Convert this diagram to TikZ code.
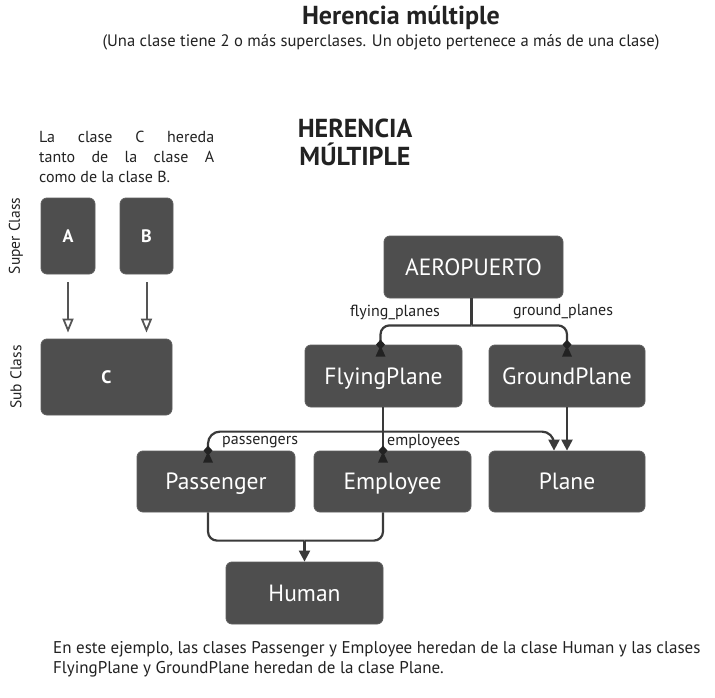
\documentclass[tikz,border=0pt]{standalone}
\usepackage{fontspec}
\setmainfont{PT Sans}
\usetikzlibrary{arrows.meta,calc}
\definecolor{boxfill}{HTML}{4E4E4E}
\definecolor{boxline}{HTML}{5E5E5E}
\definecolor{ink}{HTML}{222222}
\definecolor{wire}{HTML}{3A3A3A}
\definecolor{graywire}{HTML}{555555}
\tikzset{
  x=1pt,y=-1pt,
  cls/.style={rectangle,rounded corners=6pt,fill=boxfill,draw=boxline,line width=0.8pt,text=white,
    inner sep=0pt,text height=16.5pt,text depth=0pt,font=\fontsize{23.5}{26}\selectfont},
  abox/.style={cls,text height=12.5pt,text depth=0pt,font=\bfseries\fontsize{18}{20}\selectfont},
  conn/.style={draw=wire,line width=2.2pt},
  inh/.style={conn,-{Triangle[length=11pt,width=11pt]}},
  openinh/.style={draw=graywire,line width=2pt,-{Triangle[open,length=14pt,width=11pt,line width=1.8pt]}},
  lbl/.style={text=ink,inner sep=0pt,font=\fontsize{16}{18}\selectfont},
  compo/.pic={
    \fill[ink] (-5,12) -- (5,12) -- (0,1) -- cycle;
    \fill[ink] (0,-5) -- (4.5,0) -- (0,5) -- (-4.5,0) -- cycle;
  }
}
\begin{document}
\begin{tikzpicture}
\useasboundingbox[fill=white] (0,0) rectangle (715,698);

% titles
\node[text=ink,font=\bfseries\fontsize{26}{28}\selectfont] (title) at (401,18) {Herencia múltiple};
\node[text=ink,font=\fontsize{16.6}{19}\selectfont] (subtitle) at (381,42) {(Una clase tiene 2 o más superclases. Un objeto pertenece a más de una clase)};
\node[text=ink,align=center,font=\bfseries\fontsize{26}{28}\selectfont] (bigtitle) at (355,142) {HERENCIA\\MÚLTIPLE};

% left explanation
\node[text=ink,anchor=north west,inner sep=0pt,align=left,font=\fontsize{16}{20}\selectfont] (expl) at (39,131)
  {\makebox[175pt][s]{La clase C hereda}\\\makebox[175pt][s]{tanto de la clase A}\\como de la clase B.};
\node[text=ink,rotate=90,font=\fontsize{15.5}{17}\selectfont] (super) at (16,236) {Super Class};
\node[text=ink,rotate=90,font=\fontsize{15.5}{17}\selectfont] (sub) at (16,377) {Sub Class};

\node[abox,minimum width=54pt,minimum height=76pt] (A) at (68,236) {A};
\node[abox,minimum width=53pt,minimum height=76pt] (B) at (146.5,236) {B};
\node[abox,minimum width=131pt,minimum height=76pt] (C) at (106.5,377) {C};
\draw[openinh,shorten <=8pt,shorten >=6pt] (A.south) -- (A.south |- C.north);
\draw[openinh,shorten <=8pt,shorten >=6pt] (B.south) -- (B.south |- C.north);

% class diagram
\node[cls,minimum width=179pt,minimum height=62pt] (aero) at (473.5,267) {AEROPUERTO};
\node[cls,minimum width=157pt,minimum height=62pt] (fly) at (383.5,376) {FlyingPlane};
\node[cls,minimum width=156pt,minimum height=62pt] (ground) at (567,376) {GroundPlane};
\node[cls,minimum width=158pt,minimum height=61pt] (pas) at (216,481.5) {Passenger};
\node[cls,minimum width=157pt,minimum height=61pt] (emp) at (392.5,481.5) {Employee};
\node[cls,minimum width=156pt,minimum height=61pt] (plane) at (567,481.5) {Plane};
\node[cls,minimum width=157pt,minimum height=62pt] (human) at (304.5,593) {Human};

% aeropuerto compositions
\coordinate (j1) at ($(aero.south)+(-2,27)$);
\coordinate (flytop) at ($(fly.north)+(-3,0)$);
\draw[conn] ($(aero.south)+(-2,0)$) -- (j1);
\draw[conn,rounded corners=9pt] (j1) -| (flytop);
\draw[conn,rounded corners=9pt] (j1) -| (ground.north);
\pic at (flytop) {compo};
\pic at (ground.north) {compo};
\node[lbl] (lfly) at (395,312) {flying\_planes};
\node[lbl] (lground) at (563,312) {ground\_planes};

% employees
\coordinate (emptop) at ($(emp.north)+(-9.5,0)$);
\draw[conn] (emptop |- fly.south) -- (emptop);
\pic at (emptop) {compo};
\node[lbl,anchor=west] (lemp) at (387,442) {employees};

% passengers -> plane
\coordinate (pastop) at ($(pas.north)+(-8,0)$);
\coordinate (planeL) at ($(plane.north)+(-13,0)$);
\draw[inh,rounded corners=12pt] (pastop) |- ($(planeL)+(0,-19)$) -- (planeL);
\pic at (pastop) {compo};
\node[lbl,anchor=west] (lpas) at (222,442) {passengers};

% groundplane -> plane
\draw[inh] (ground.south) -- (plane.north);

% passenger, employee -> human
\coordinate (pasbot) at ($(pas.south)+(-8,0)$);
\coordinate (empbot) at ($(emp.south)+(-9.5,0)$);
\coordinate (j2) at ($(human.north)+(0,-21)$);
\draw[conn,rounded corners=9pt] (pasbot) |- (j2);
\draw[conn,rounded corners=9pt] (empbot) |- (j2);
\draw[inh] (j2) -- (human.north);

% bottom note
\node[text=ink,anchor=north west,inner sep=0pt,align=left,font=\fontsize{17}{20}\selectfont] (note) at (53,641)
  {En este ejemplo, las clases Passenger y Employee heredan de la clase Human y las clases\\FlyingPlane y GroundPlane heredan de la clase Plane.};
\end{tikzpicture}
\end{document}
